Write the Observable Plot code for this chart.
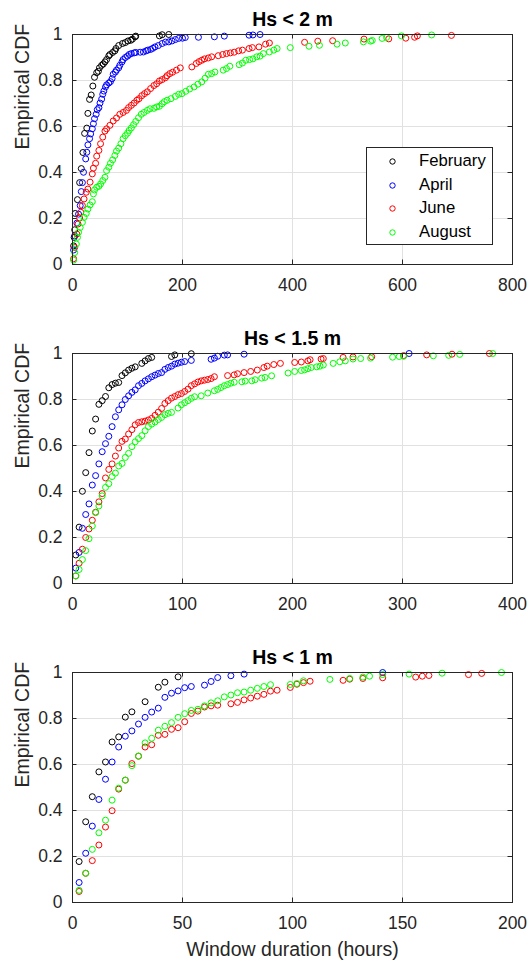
<!DOCTYPE html>
<html>
<head>
<meta charset="utf-8">
<script src="https://cdn.jsdelivr.net/npm/d3@7"></script>
<script src="https://cdn.jsdelivr.net/npm/@observablehq/plot@0.6"></script>
<style>
  html, body { margin: 0; padding: 0; background: #fff; }
  #wrap { position: relative; width: 528px; height: 962px; }
  #wrap svg { display: block; }
  .legend { position: absolute; background: #fff; border: 1px solid #262626; box-sizing: border-box;
            font-family: "Liberation Sans", Arial, sans-serif; font-size: 16.7px; color: #000; }
  .legend .row { position: absolute; left: 0; height: 20px; line-height: 20px; width: 100%; }
  .legend .row svg { position: absolute; left: 21px; top: 6px; }
  .legend .row span { position: absolute; left: 52px; top: 0; }
</style>
</head>
<body>
<div id="wrap"></div>
<script>
// ---- categories / styling lookups ----
const months = ["February", "April", "June", "August"];
const monthColors = ["#000000", "#0000ff", "#ff0000", "#00ff00"];
const titles = ["Hs < 2 m", "Hs < 1.5 m", "Hs < 1 m"];
const yTicks = [0, 0.2, 0.4, 0.6, 0.8, 1];
const xTicks1 = [0, 200, 400, 600, 800];
const xTicks2 = [0, 100, 200, 300, 400];
const xTicks3 = [0, 50, 100, 150, 200];

// ---- Panel 1: Hs < 2 m  [duration (h), ECDF] ----
const feb1 = [[2,.081],[3,.118],[4,.151],[5,.222],[9,.282],[13,.356],[16,.417],[19,.487],[22,.570],[26,.593],[28,.657],[31,.718],[34,.737],[37,.776],[40,.814],[44,.834],[47,.840],[49,.855],[53,.866],[56,.872],[59,.881],[62,.891],[66,.907],[68,.913],[73,.922],[77,.929],[79,.939],[84,.952],[91,.961],[96,.965],[101,.972],[106,.975],[109,.980],[114,.990],[115,.993],[158,.994],[163,.999],[175,1]];
const apr1 = [[2,.063],[4,.125],[8,.180],[11,.219],[14,.256],[16,.317],[18,.356],[20,.401],[24,.459],[26,.488],[28,.520],[31,.547],[33,.568],[36,.590],[38,.612],[40,.634],[43,.653],[45,.673],[48,.682],[50,.702],[53,.719],[55,.740],[57,.754],[60,.772],[62,.781],[66,.789],[69,.795],[72,.808],[74,.827],[78,.837],[80,.845],[84,.855],[86,.866],[90,.881],[92,.891],[96,.900],[100,.906],[103,.913],[107,.917],[112,.920],[115,.922],[123,.923],[129,.924],[134,.929],[137,.932],[142,.935],[146,.940],[150,.946],[156,.952],[163,.961],[169,.967],[175,.968],[181,.972],[187,.978],[193,.983],[200,.984],[205,.987],[229,.988],[258,.990],[276,.993],[321,.997],[328,.998],[341,1]];
const jun1 = [[2,.025],[4,.074],[8,.132],[10,.176],[13,.202],[15,.227],[18,.256],[21,.285],[25,.314],[28,.328],[32,.358],[36,.394],[38,.419],[42,.440],[44,.471],[48,.496],[51,.525],[55,.554],[59,.580],[62,.590],[68,.605],[74,.624],[80,.637],[86,.653],[92,.661],[98,.670],[102,.682],[107,.692],[112,.702],[117,.714],[121,.721],[126,.734],[131,.743],[136,.751],[142,.765],[148,.778],[153,.786],[158,.798],[163,.804],[169,.812],[172,.821],[177,.830],[182,.836],[189,.845],[196,.855],[217,.859],[225,.874],[230,.882],[235,.888],[240,.894],[247,.898],[253,.903],[265,.908],[273,.913],[280,.917],[287,.920],[294,.923],[302,.929],[309,.932],[321,.939],[327,.943],[339,.946],[351,.958],[358,.963],[422,.966],[446,.971],[473,.973],[530,.980],[575,.981],[606,.984],[622,.988],[627,.994],[689,.996]];
const aug1 = [[2,.019],[4,.052],[7,.089],[9,.118],[11,.140],[14,.161],[18,.183],[21,.205],[25,.222],[28,.241],[32,.259],[36,.273],[38,.307],[40,.324],[44,.336],[48,.340],[51,.350],[55,.365],[59,.379],[62,.408],[66,.423],[69,.440],[73,.455],[77,.474],[80,.493],[84,.506],[88,.525],[92,.547],[96,.560],[100,.571],[103,.583],[107,.594],[111,.608],[115,.622],[120,.638],[125,.653],[130,.661],[136,.670],[141,.677],[148,.679],[153,.685],[158,.688],[163,.699],[167,.708],[172,.714],[179,.721],[187,.731],[193,.740],[199,.743],[206,.753],[213,.763],[221,.772],[228,.784],[235,.794],[241,.810],[247,.827],[253,.830],[259,.837],[274,.845],[280,.852],[286,.862],[303,.869],[309,.876],[315,.888],[322,.891],[328,.894],[335,.903],[341,.906],[347,.917],[358,.924],[366,.932],[372,.939],[396,.943],[430,.949],[449,.953],[481,.958],[496,.963],[529,.968],[542,.971],[545,.974],[563,.983],[571,.987],[598,.994],[653,.998]];

// ---- Panel 2: Hs < 1.5 m ----
const feb2 = [[3,.124],[6,.245],[9,.401],[12,.482],[15,.569],[18,.663],[21,.715],[24,.779],[27,.795],[30,.813],[33,.851],[36,.865],[39,.871],[42,.874],[45,.904],[48,.916],[51,.928],[54,.936],[57,.942],[63,.957],[66,.968],[69,.978],[72,.983],[90,.987],[93,.994],[108,.999]];
const apr2 = [[3,.067],[6,.135],[9,.240],[12,.300],[15,.346],[18,.428],[21,.469],[24,.520],[27,.573],[30,.608],[33,.640],[36,.682],[39,.725],[42,.755],[45,.777],[48,.800],[51,.816],[54,.831],[57,.842],[60,.860],[63,.870],[66,.881],[69,.890],[72,.899],[75,.906],[78,.913],[81,.917],[84,.931],[87,.939],[90,.945],[93,.954],[96,.958],[99,.962],[102,.965],[108,.970],[126,.975],[129,.980],[132,.988],[138,.993],[141,.994],[156,.997],[306,1]];
const jun2 = [[3,.033],[6,.088],[9,.149],[12,.200],[15,.237],[18,.275],[21,.310],[24,.355],[27,.391],[30,.459],[33,.496],[36,.520],[39,.554],[42,.589],[45,.618],[48,.628],[51,.650],[54,.669],[57,.690],[60,.700],[63,.703],[66,.706],[69,.711],[72,.718],[75,.731],[78,.745],[81,.761],[84,.783],[87,.795],[90,.806],[93,.813],[96,.821],[99,.826],[102,.835],[105,.845],[108,.860],[111,.868],[114,.876],[117,.881],[120,.884],[123,.887],[126,.891],[129,.899],[141,.904],[147,.907],[150,.912],[156,.917],[162,.922],[168,.928],[174,.939],[177,.945],[183,.952],[189,.957],[202,.961],[208,.963],[214,.968],[216,.973],[226,.976],[228,.978],[246,.983],[255,.985],[272,.986],[301,.991],[322,.994],[345,.997],[379,1]];
const aug2 = [[3,.033],[6,.061],[9,.104],[12,.143],[15,.195],[18,.250],[21,.308],[24,.337],[27,.381],[30,.418],[33,.434],[36,.465],[39,.480],[42,.511],[45,.522],[48,.548],[51,.566],[54,.595],[57,.616],[60,.630],[63,.643],[66,.664],[69,.682],[72,.693],[75,.702],[78,.713],[81,.722],[84,.734],[87,.740],[90,.744],[96,.763],[99,.777],[102,.786],[105,.795],[108,.805],[111,.812],[117,.816],[123,.828],[129,.838],[132,.844],[135,.852],[138,.860],[141,.865],[144,.871],[147,.875],[154,.877],[157,.880],[163,.881],[166,.886],[172,.893],[175,.896],[181,.903],[196,.915],[202,.922],[208,.926],[211,.929],[214,.934],[217,.939],[222,.942],[225,.945],[228,.950],[237,.957],[243,.964],[248,.968],[255,.976],[262,.978],[271,.980],[291,.984],[297,.987],[301,.988],[328,.990],[342,.992],[352,.996],[382,1]];

// ---- Panel 3: Hs < 1 m ----
const feb3 = [[3,.178],[6,.351],[9,.460],[12,.568],[15,.611],[18,.698],[21,.720],[24,.806],[27,.829],[33,.873],[39,.936],[42,.958],[48,.981]];
const apr3 = [[3,.087],[6,.214],[9,.332],[12,.448],[15,.536],[18,.611],[21,.676],[24,.723],[27,.746],[30,.776],[33,.805],[36,.828],[39,.845],[42,.892],[45,.910],[48,.920],[51,.934],[54,.939],[60,.945],[63,.961],[66,.978],[72,.986],[78,.993],[141,1]];
const jun3 = [[3,.048],[6,.127],[9,.182],[12,.250],[15,.328],[18,.399],[21,.493],[24,.532],[27,.604],[30,.636],[33,.676],[36,.686],[39,.727],[42,.731],[45,.753],[48,.760],[51,.786],[54,.822],[57,.832],[60,.850],[63,.855],[66,.858],[72,.864],[75,.870],[78,.881],[81,.889],[84,.897],[87,.905],[90,.919],[93,.923],[99,.935],[102,.949],[105,.956],[108,.962],[123,.966],[126,.971],[132,.974],[141,.977],[156,.980],[159,.984],[162,.987],[180,.991],[186,.996]];
const aug3 = [[3,.053],[6,.127],[9,.231],[12,.303],[15,.358],[18,.445],[21,.497],[24,.532],[27,.595],[30,.637],[33,.694],[36,.714],[39,.749],[42,.766],[45,.782],[48,.805],[51,.821],[54,.835],[57,.840],[60,.855],[63,.868],[66,.877],[69,.894],[72,.902],[75,.912],[78,.915],[81,.923],[84,.931],[87,.939],[90,.947],[99,.948],[102,.952],[105,.964],[117,.970],[126,.974],[132,.980],[135,.984],[141,.991],[153,.993],[168,.997],[195,1]];

// ---- assemble ----
const panels = [
  {title: titles[0], xMax: 800, xTicks: xTicks1, series: [feb1, apr1, jun1, aug1], height: 318, mt: 34, mb: 54},
  {title: titles[1], xMax: 400, xTicks: xTicks2, series: [feb2, apr2, jun2, aug2], height: 318, mt: 35, mb: 53},
  {title: titles[2], xMax: 200, xTicks: xTicks3, series: [feb3, apr3, jun3, aug3], height: 326, mt: 36, mb: 60, xlabel: "Window duration (hours)"}
];

const wrap = document.getElementById("wrap");
const ML = 72, MR = 16, W = 528;
const innerW = W - ML - MR;
const tickLen = 4.5;
const gridColor = "#e1e1e1";
const axisColor = "#262626";

panels.forEach((p, pi) => {
  const rows = [];
  p.series.forEach((s, si) => s.forEach(([x, y]) => rows.push({month: months[si], x, y})));
  const innerH = p.height - p.mt - p.mb;
  const marks = [
    Plot.ruleX(p.xTicks, {x: d => d, stroke: gridColor, strokeWidth: 1}),
    Plot.ruleY(yTicks, {y: d => d, stroke: gridColor, strokeWidth: 1}),
    Plot.dot(rows, {x: "x", y: "y", stroke: "month", r: 3, strokeWidth: 1, fill: "none"}),
    Plot.tickX(p.xTicks, {x: d => d, stroke: axisColor, insetTop: innerH - tickLen}),
    Plot.tickX(p.xTicks, {x: d => d, stroke: axisColor, insetBottom: innerH - tickLen}),
    Plot.tickY(yTicks, {y: d => d, stroke: axisColor, insetRight: innerW - tickLen}),
    Plot.tickY(yTicks, {y: d => d, stroke: axisColor, insetLeft: innerW - tickLen}),
    Plot.frame({stroke: axisColor, strokeWidth: 1}),
    Plot.text([p.title], {text: d => d, frameAnchor: "top", lineAnchor: "middle", dy: -14.5, fontWeight: "bold", fontSize: 19.5, fill: "#000"}),
    Plot.text(["Empirical CDF"], {text: d => d, frameAnchor: "left", lineAnchor: "middle", dx: -50, rotate: -90, fontSize: 19.5, fill: axisColor})
  ];
  if (p.xlabel) {
    marks.push(Plot.text([p.xlabel], {text: d => d, frameAnchor: "bottom", lineAnchor: "middle", dy: 47.5, fontSize: 19.5, fill: axisColor}));
  }
  const chart = Plot.plot({
    width: W, height: p.height,
    marginTop: p.mt, marginBottom: p.mb, marginLeft: ML, marginRight: MR,
    style: {fontFamily: '"Liberation Sans", Arial, Helvetica, sans-serif', fontSize: "17.5px", color: axisColor, background: "#fff", overflow: "visible"},
    x: {domain: [0, p.xMax], ticks: p.xTicks, tickFormat: d => String(d), tickSize: 0, tickPadding: 14, label: null},
    y: {domain: [0, 1], ticks: yTicks, tickFormat: d => String(+d.toFixed(1)), tickSize: 0, tickPadding: 10, label: null},
    color: {domain: months, range: monthColors},
    marks
  });
  wrap.appendChild(chart);
});

// ---- legend (panel 1) ----
const legend = document.createElement("div");
legend.className = "legend";
Object.assign(legend.style, {left: "366px", top: "147px", width: "127px", height: "98px"});
const rowCenters = [13, 37, 60, 84];
months.forEach((m, i) => {
  const row = document.createElement("div");
  row.className = "row";
  row.style.top = (rowCenters[i] - 10) + "px";
  row.innerHTML = `<svg width="9" height="9"><circle cx="4.5" cy="4.5" r="2.7" fill="none" stroke="${monthColors[i]}" stroke-width="1"/></svg><span>${m}</span>`;
  legend.appendChild(row);
});
wrap.appendChild(legend);
</script>
</body>
</html>
